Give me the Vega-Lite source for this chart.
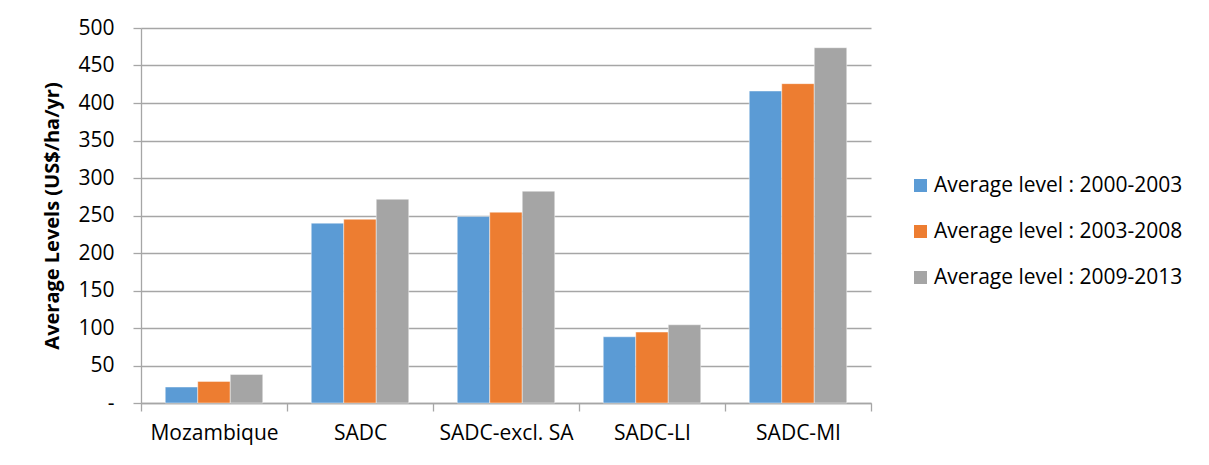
{
  "$schema": "https://vega.github.io/schema/vega-lite/v6.json",
  "width": 730,
  "height": 375,
  "autosize": {"type": "none"},
  "padding": {"left": 141, "top": 28, "right": 338, "bottom": 62},
  "background": "white",
  "config": {"font": "Open Sans", "view": {"stroke": null}},
  "data": {
    "values": [
      {"region": "Mozambique", "period": "Average level : 2000-2003", "value": 21.3},
      {"region": "Mozambique", "period": "Average level : 2003-2008", "value": 28.8},
      {"region": "Mozambique", "period": "Average level : 2009-2013", "value": 38.1},
      {"region": "SADC", "period": "Average level : 2000-2003", "value": 239.8},
      {"region": "SADC", "period": "Average level : 2003-2008", "value": 245},
      {"region": "SADC", "period": "Average level : 2009-2013", "value": 271.7},
      {"region": "SADC-excl. SA", "period": "Average level : 2000-2003", "value": 248.6},
      {"region": "SADC-excl. SA", "period": "Average level : 2003-2008", "value": 254.4},
      {"region": "SADC-excl. SA", "period": "Average level : 2009-2013", "value": 282.4},
      {"region": "SADC-LI", "period": "Average level : 2000-2003", "value": 88.3},
      {"region": "SADC-LI", "period": "Average level : 2003-2008", "value": 94.6},
      {"region": "SADC-LI", "period": "Average level : 2009-2013", "value": 104.3},
      {"region": "SADC-MI", "period": "Average level : 2000-2003", "value": 416},
      {"region": "SADC-MI", "period": "Average level : 2003-2008", "value": 425.8},
      {"region": "SADC-MI", "period": "Average level : 2009-2013", "value": 473.7}
    ]
  },
  "mark": {"type": "bar", "stroke": "#ffffff", "strokeWidth": 0.75, "strokeOpacity": 0.6},
  "encoding": {
    "x": {
      "field": "region",
      "type": "nominal",
      "sort": ["Mozambique", "SADC", "SADC-excl. SA", "SADC-LI", "SADC-MI"],
      "scale": {"paddingInner": 0, "paddingOuter": 0},
      "axis": {
        "title": null,
        "labelAngle": 0,
        "labelFontSize": 21,
        "labelColor": "#000000",
        "labelPadding": 11,
        "tickBand": "extent",
        "tickSize": 8,
        "tickColor": "#a6a6a6",
        "tickWidth": 1.3,
        "domainColor": "#a6a6a6",
        "domainWidth": 1.3
      }
    },
    "xOffset": {
      "field": "period",
      "sort": ["Average level : 2000-2003", "Average level : 2003-2008", "Average level : 2009-2013"],
      "scale": {"paddingInner": 0, "paddingOuter": 0.746}
    },
    "y": {
      "field": "value",
      "type": "quantitative",
      "scale": {"domain": [0, 500], "nice": false},
      "axis": {
        "values": [0, 50, 100, 150, 200, 250, 300, 350, 400, 450, 500],
        "labelExpr": "datum.value == 0 ? '-' : datum.label",
        "labelFontSize": 21,
        "labelColor": "#000000",
        "labelPadding": 19,
        "tickSize": 8,
        "tickColor": "#a6a6a6",
        "tickWidth": 1.3,
        "gridColor": "#a6a6a6",
        "gridWidth": 1.3,
        "domainColor": "#a6a6a6",
        "domainWidth": 1.3,
        "title": "Average Levels (US$/ha/yr)",
        "titleFontSize": 20,
        "titleFontWeight": "bold",
        "titleColor": "#000000",
        "titlePadding": 15
      }
    },
    "color": {
      "field": "period",
      "type": "nominal",
      "scale": {
        "domain": ["Average level : 2000-2003", "Average level : 2003-2008", "Average level : 2009-2013"],
        "range": ["#5b9bd5", "#ed7d31", "#a5a5a5"]
      },
      "legend": {
        "title": null,
        "orient": "none",
        "legendX": 769,
        "legendY": 147,
        "symbolType": "square",
        "symbolSize": 169,
        "symbolStrokeWidth": 0,
        "labelFontSize": 21,
        "labelColor": "#000000",
        "labelOffset": 3,
        "labelLimit": 400,
        "rowPadding": 24,
        "padding": 0
      }
    }
  }
}
